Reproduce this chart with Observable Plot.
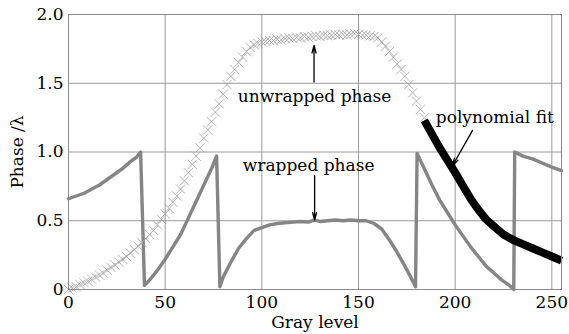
<!DOCTYPE html>
<html><head><meta charset="utf-8">
<script src="https://cdn.jsdelivr.net/npm/d3@7"></script>
<script src="https://cdn.jsdelivr.net/npm/@observablehq/plot@0.6"></script>
<style>body{margin:0;background:#fff}</style>
</head><body><div id="chart"></div>
<script>
// Unwrapped phase (× markers), read every 2 gray levels
const unwrappedGray = [0,2,4,6,8,10,12,14,16,18,20,22,24,26,28,30,32,34,36,38,40,42,44,46,48,50,52,54,56,58,60,62,64,66,68,70,72,74,76,78,80,82,84,86,88,90,92,94,96,98,100,102,104,106,108,110,112,114,116,118,120,122,124,126,128,130,132,134,136,138,140,142,144,146,148,150,152,154,156,158,160,162,164,166,168,170,172,174,176,178,180,182,184];
const unwrappedPhase = [0.00,0.01,0.02,0.035,0.05,0.06,0.075,0.09,0.105,0.12,0.14,0.16,0.18,0.20,0.22,0.24,0.265,0.29,0.315,0.34,0.37,0.40,0.43,0.47,0.51,0.55,0.59,0.635,0.68,0.73,0.79,0.85,0.91,0.97,1.03,1.10,1.16,1.22,1.29,1.35,1.42,1.49,1.55,1.60,1.65,1.69,1.73,1.76,1.78,1.79,1.80,1.805,1.81,1.81,1.82,1.815,1.825,1.83,1.825,1.835,1.83,1.84,1.835,1.84,1.845,1.84,1.85,1.845,1.85,1.855,1.85,1.855,1.85,1.855,1.86,1.855,1.85,1.85,1.845,1.84,1.83,1.80,1.77,1.73,1.69,1.64,1.60,1.55,1.49,1.43,1.37,1.31,1.25];

// Wrapped phase (gray line)
const wrappedGray = [0,4,8,12,16,20,24,28,32,35,37.3,39.3,42,46,50,54,58,62,66,70,74,76.6,78.3,80,84,88,92,96,100,104,108,112,116,120,124,127,130,134,138,142,146,150,154,158,162,166,170,174,177,179.5,180.3,184,188,192,196,200,204,208,212,216,220,224,228,230.3,230.8,235,240,245,250,255];
const wrappedPhase = [0.66,0.68,0.70,0.73,0.76,0.80,0.84,0.88,0.93,0.96,1.0,0.03,0.07,0.14,0.22,0.31,0.40,0.52,0.64,0.76,0.88,0.97,0.02,0.09,0.20,0.30,0.37,0.43,0.45,0.47,0.48,0.485,0.49,0.495,0.49,0.505,0.495,0.50,0.505,0.50,0.505,0.50,0.50,0.48,0.44,0.36,0.27,0.17,0.09,0.02,0.99,0.88,0.76,0.65,0.56,0.47,0.39,0.31,0.24,0.17,0.12,0.07,0.03,0.0,1.0,0.97,0.95,0.92,0.89,0.865];

// Polynomial fit (thick black line)
const fitGray = [184,188,192,196,200,204,208,212,216,220,225,230,235,240,245,250,255];
const fitPhase = [1.23,1.13,1.03,0.94,0.85,0.755,0.66,0.58,0.51,0.46,0.40,0.36,0.33,0.30,0.27,0.24,0.21];

const xTicks = [0,50,100,150,200,250];
const yTicks = [0,0.5,1.0,1.5,2.0];

// Annotations (data coordinates)
const labels = [
  {text:"unwrapped phase", x:127.3, y:1.40},
  {text:"wrapped phase", x:124.2, y:0.90},
  {text:"polynomial fit", x:220.5, y:1.25}
];
const arrows = [
  {x1:127, y1:1.51, x2:127, y2:1.775},
  {x1:127.3, y1:0.83, x2:127.3, y2:0.505},
  {x1:209, y1:1.157, x2:198.6, y2:0.90}
];

const unwrapped = unwrappedGray.map((g,i)=>({g, v:unwrappedPhase[i]}));
const wrapped = wrappedGray.map((g,i)=>({g, v:wrappedPhase[i]}));
const fit = fitGray.map((g,i)=>({g, v:fitPhase[i]}));

const chart = Plot.plot({
  width: 569, height: 334,
  marginLeft: 68, marginRight: 8, marginTop: 14, marginBottom: 45,
  style: {fontFamily: "DejaVu Serif", fontSize: "17px", color: "black", background: "white"},
  x: {domain: [0,255]},
  y: {domain: [0,2]},
  marks: [
    Plot.gridX(xTicks, {stroke: "#9a9a9a", strokeOpacity: 1, strokeWidth: 1}),
    Plot.gridY(yTicks, {stroke: "#9a9a9a", strokeOpacity: 1, strokeWidth: 1}),
    Plot.axisX(xTicks, {tickSize: 0, tickPadding: 6, tickFormat: d => String(d), label: "Gray level", labelAnchor: "center", labelArrow: "none", labelOffset: 38}),
    Plot.axisY(yTicks, {tickSize: 0, tickPadding: 5, tickFormat: d => d === 0 ? "0" : d.toFixed(1), label: "Phase /λ", labelAnchor: "center", labelArrow: "none", labelOffset: 58}),
    Plot.line(wrapped, {x: "g", y: "v", stroke: "#858585", strokeWidth: 3.4, strokeLinejoin: "round"}),
    Plot.dot(unwrapped, {x: "g", y: "v", symbol: "times", r: 4.3, stroke: "#a0a0a0", strokeWidth: 0.8}),
    Plot.line(fit, {x: "g", y: "v", stroke: "black", strokeWidth: 8, strokeLinecap: "butt", strokeLinejoin: "round"}),
    Plot.arrow(arrows, {x1: "x1", y1: "y1", x2: "x2", y2: "y2", stroke: "black", strokeWidth: 1.3, headLength: 9, headAngle: 30}),
    Plot.text(labels, {x: "x", y: "y", text: "text", fill: "black", fontSize: 17}),
    Plot.frame({stroke: "#8a8a8a"})
  ]
});
document.getElementById("chart").append(chart);
</script>
</body></html>
